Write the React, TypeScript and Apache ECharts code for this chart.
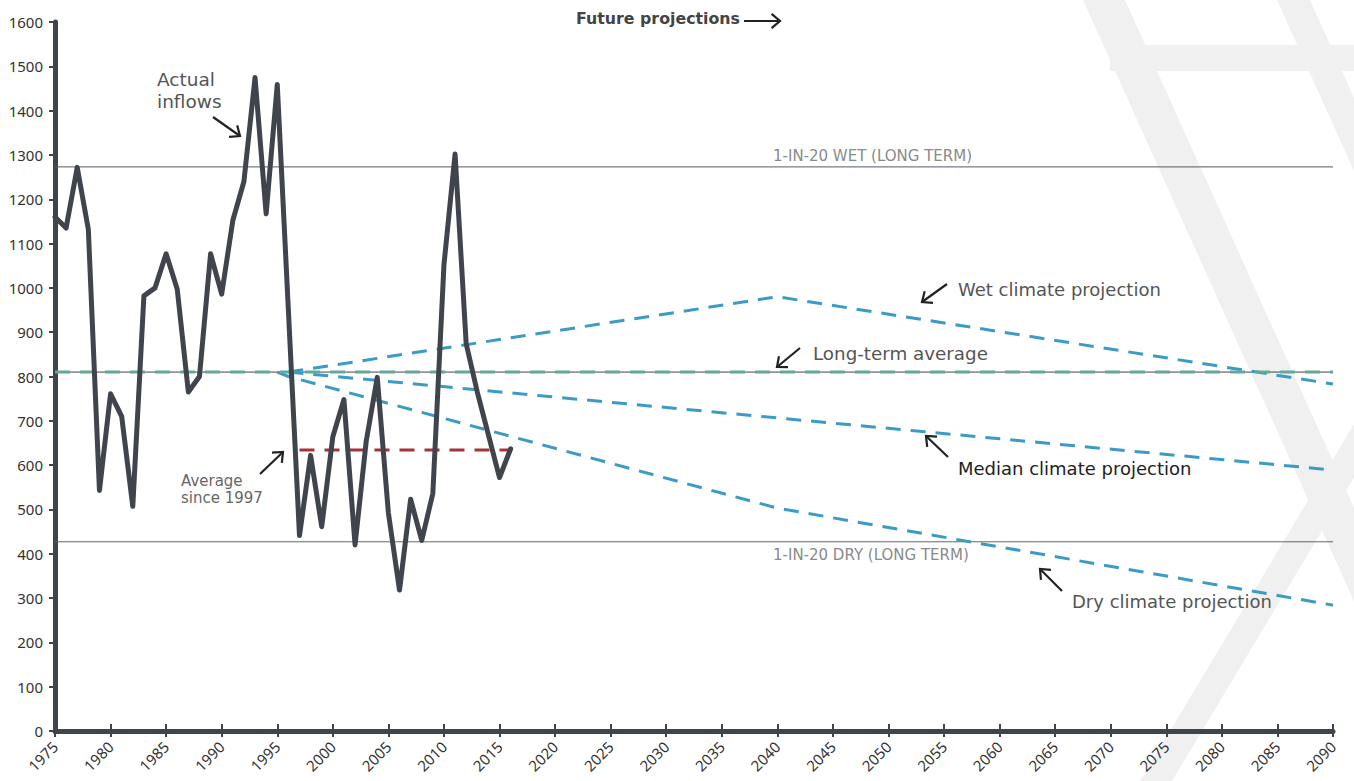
import React, { useEffect, useRef } from "react";
import * as echarts from "echarts";

// ---- Data ----
const inflowYears = [
  1975, 1976, 1977, 1978, 1979, 1980, 1981, 1982, 1983, 1984, 1985, 1986, 1987, 1988,
  1989, 1990, 1991, 1992, 1993, 1994, 1995, 1996, 1997, 1998, 1999, 2000, 2001, 2002,
  2003, 2004, 2005, 2006, 2007, 2008, 2009, 2010, 2011, 2012, 2013, 2014, 2015, 2016,
];
const inflows = [
  1160, 1135, 1272, 1132, 543, 761, 710, 507, 982, 1000, 1077, 997, 765, 800,
  1077, 986, 1152, 1240, 1475, 1167, 1459, 950, 441, 622, 461, 664, 748, 420,
  653, 798, 492, 318, 523, 430, 536, 1052, 1302, 874, 765, 668, 572, 637,
];

const wetYears = [1996, 2040, 2090];
const wetValues = [810, 980, 783];
const medianYears = [1996, 2090];
const medianValues = [810, 589];
const dryYears = [1995, 1996, 2040, 2090];
const dryValues = [810, 800, 503, 284];

const longTermYears = [1975, 2090];
const longTermValues = [810, 810];
const avgSince1997Years = [1997, 2016];
const avgSince1997Values = [634, 634];
const wet1in20Years = [1975, 2090];
const wet1in20Values = [1273, 1273];
const dry1in20Years = [1975, 2090];
const dry1in20Values = [427, 427];

const xMin = 1975;
const xMax = 2090;
const xInterval = 5;
const yMin = 0;
const yMax = 1600;
const yInterval = 100;

const pairs = (xs: number[], ys: number[]) => xs.map((x, i) => [x, ys[i]]);

const AXIS_FONT = "'Noto Sans', 'Open Sans', sans-serif";
const FONT = "'DejaVu Sans', 'Noto Sans', sans-serif";

function arrow(x1: number, y1: number, x2: number, y2: number) {
  const a = Math.atan2(y2 - y1, x2 - x1);
  const h = 11;
  const p1 = [x2 - h * Math.cos(a - 0.7), y2 - h * Math.sin(a - 0.7)];
  const p2 = [x2 - h * Math.cos(a + 0.7), y2 - h * Math.sin(a + 0.7)];
  return [
    { type: "line", z: 100, shape: { x1, y1, x2, y2 }, style: { stroke: "#222", lineWidth: 2.2 } },
    { type: "polyline", z: 100, shape: { points: [p1, [x2, y2], p2] }, style: { stroke: "#222", lineWidth: 2.2, fill: null } },
  ];
}

function label(text: string, x: number, y: number, size: number, color: string, weight: any = "normal") {
  return {
    type: "text",
    z: 100,
    x,
    y,
    style: {
      text,
      fill: color,
      fontSize: size,
      fontFamily: FONT,
      fontWeight: weight,
      verticalAlign: "middle",
      align: "left",
    },
  };
}

const BG = "#f0f0f0";

export default function App() {
  const ref = useRef<HTMLDivElement>(null);
  useEffect(() => {
    if (!ref.current) return;
    const chart = echarts.init(ref.current, null, { renderer: "svg" });
    const dashed = (color: string, width: number, dash: number[]) => ({
      color,
      width,
      type: dash,
    });
    const baseX = {
      type: "value",
      min: xMin,
      max: xMax,
      interval: xInterval,
      position: "bottom",
      splitLine: { show: false },
    };
    const option: any = {
      animation: false,
      backgroundColor: "#fff",
      grid: { left: 55, right: 21, top: 22, bottom: 50, containLabel: false },
      xAxis: [
        {
          ...baseX,
          axisLine: { show: true, onZero: false, lineStyle: { color: "#40444d", width: 5 } },
          axisTick: { show: true, length: 6, lineStyle: { color: "#40444d", width: 2 } },
          axisLabel: {
            rotate: 45,
            margin: 13,
            color: "#333",
            fontSize: 15,
            fontFamily: AXIS_FONT,
            formatter: (v: number) => String(v),
          },
        },
        {
          ...baseX,
          offset: 0,
          axisLine: { show: false, onZero: false },
          axisTick: { show: true, inside: true, length: 7, lineStyle: { color: "#40444d", width: 2 } },
          axisLabel: { show: false },
        },
      ],
      yAxis: {
        type: "value",
        min: yMin,
        max: yMax,
        interval: yInterval,
        axisLine: { show: true, lineStyle: { color: "#40444d", width: 5 } },
        axisTick: { show: true, length: 6, lineStyle: { color: "#40444d", width: 2 } },
        splitLine: { show: false },
        axisLabel: {
          margin: 12,
          color: "#333",
          fontSize: 15,
          fontFamily: AXIS_FONT,
          formatter: (v: number) => String(v),
        },
      },
      graphic: [
        // background logo bands
        { type: "polygon", z: -10, shape: { points: [[1083, 0], [1125, 0], [1477, 781], [1435, 781]] }, style: { fill: BG } },
        { type: "polygon", z: -10, shape: { points: [[1140, 781], [1172, 781], [1640, 0], [1608, 0]] }, style: { fill: BG } },
        { type: "polygon", z: -10, shape: { points: [[1277, 0], [1310, 0], [1400, 200], [1367, 200]] }, style: { fill: BG } },
        { type: "rect", z: -10, shape: { x: 1110, y: 45, width: 260, height: 26 }, style: { fill: BG } },
        // annotations
        label("Actual", 157, 79, 18.5, "#555"),
        label("inflows", 157, 101, 18.5, "#555"),
        ...arrow(213, 117, 240, 136),
        label("Average", 181, 481, 15, "#666"),
        label("since 1997", 181, 498, 15, "#666"),
        ...arrow(260, 474, 283, 452),
        label("Future projections", 576, 18, 15.8, "#444", "bold"),
        ...arrow(744, 21, 780, 21),
        label("1-IN-20 WET (LONG TERM)", 773, 156, 15, "#8a8a8a"),
        label("1-IN-20 DRY (LONG TERM)", 773, 555, 15, "#8a8a8a"),
        label("Wet climate projection", 958, 289, 18, "#555"),
        ...arrow(947, 284, 922, 302),
        label("Long-term average", 813, 353, 18.3, "#555"),
        ...arrow(800, 348, 777, 367),
        label("Median climate projection", 958, 468, 18, "#222"),
        ...arrow(948, 457, 926, 436),
        label("Dry climate projection", 1072, 601, 18, "#555"),
        ...arrow(1062, 591, 1040, 569),
      ],
      series: [
        {
          type: "line", name: "1-in-20 wet", data: pairs(wet1in20Years, wet1in20Values),
          showSymbol: false, symbol: "none", z: 3, lineStyle: { color: "#555a63", width: 1 },
        },
        {
          type: "line", name: "1-in-20 dry", data: pairs(dry1in20Years, dry1in20Values),
          showSymbol: false, symbol: "none", z: 3, lineStyle: { color: "#666", width: 1 },
        },
        {
          type: "line", name: "Long-term black", data: pairs(longTermYears, longTermValues),
          showSymbol: false, symbol: "none", z: 3, lineStyle: { color: "#444", width: 1 },
        },
        {
          type: "line", name: "Wet climate projection", data: pairs(wetYears, wetValues),
          showSymbol: false, symbol: "none", z: 4, lineStyle: dashed("#3b9bc6", 3, [15, 10]),
        },
        {
          type: "line", name: "Median climate projection", data: pairs(medianYears, medianValues),
          showSymbol: false, symbol: "none", z: 4, lineStyle: dashed("#3b9bc6", 3, [15, 10]),
        },
        {
          type: "line", name: "Dry climate projection", data: pairs(dryYears, dryValues),
          showSymbol: false, symbol: "none", z: 4, lineStyle: dashed("#3b9bc6", 3, [15, 10]),
        },
        {
          type: "line", name: "Long-term average", data: pairs(longTermYears, longTermValues),
          showSymbol: false, symbol: "none", z: 5, lineStyle: dashed("#66a898", 3, [15, 10]),
        },
        {
          type: "line", name: "Average since 1997", data: pairs(avgSince1997Years, avgSince1997Values),
          showSymbol: false, symbol: "none", z: 6, lineStyle: dashed("#a8323a", 3, [15, 10]),
        },
        {
          type: "line", name: "Actual inflows", data: pairs(inflowYears, inflows),
          showSymbol: false, symbol: "none", z: 10,
          lineStyle: { color: "#40444d", width: 5, join: "round", cap: "round" },
        },
      ],
    };
    chart.setOption(option);
    return () => chart.dispose();
  }, []);
  return (
    <div
      ref={ref}
      style={{ position: "absolute", left: 0, top: 0, width: 1354, height: 781 }}
    />
  );
}
